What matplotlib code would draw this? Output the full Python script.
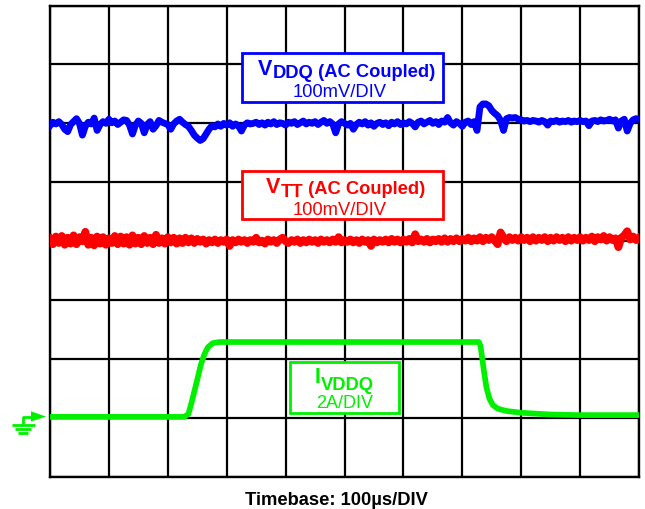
import numpy as np
import matplotlib
matplotlib.use("Agg")
import matplotlib.pyplot as plt
from matplotlib.patches import Rectangle, Polygon

plt.rcParams['font.family'] = ['Liberation Sans', 'DejaVu Sans']

# ---------------- data (grid divisions) ----------------
SAMPLE_STEP = 0.05  # divisions between scope samples

vddq = [
    5.96, 6.02, 5.99, 6.03, 5.98, 5.90, 5.86, 5.98, 6.03, 6.08,
    6.00, 5.80, 5.95, 6.02, 5.99, 6.09, 5.88, 5.98, 6.03, 6.00,
    6.07, 6.01, 6.04, 5.98, 6.02, 6.06, 6.05, 5.97, 5.82, 5.97,
    6.04, 6.00, 5.84, 5.98, 6.03, 5.90, 5.96, 6.05, 6.02, 6.00,
    5.98, 5.90, 5.99, 6.04, 6.07, 6.02, 5.98, 5.95, 5.88, 5.80,
    5.75, 5.71, 5.74, 5.82, 5.90, 5.96, 5.94, 5.99, 5.95, 6.00,
    5.97, 6.01, 5.95, 5.99, 5.96, 5.87, 5.97, 6.01, 5.99, 6.00,
    6.02, 5.98, 6.01, 5.97, 6.02, 5.99, 6.03, 5.98, 6.01, 6.00,
    5.97, 6.02, 6.00, 6.03, 5.98, 6.01, 6.04, 5.99, 6.02, 6.00,
    6.03, 5.98, 6.02, 6.05, 6.00, 6.03, 5.99, 5.84, 5.99, 6.03,
    6.00, 5.97, 6.00, 5.90, 5.98, 6.02, 5.99, 6.03, 5.97, 6.01,
    5.95, 6.00, 6.02, 5.98, 6.01, 5.96, 6.02, 5.99, 6.03, 5.98,
    6.01, 5.99, 6.03, 6.00, 5.94, 6.02, 6.04, 5.99, 6.02, 6.05,
    6.00, 6.03, 5.98, 6.04, 6.02, 6.10, 6.01, 5.97, 6.03, 6.00,
    5.95, 6.02, 6.04, 5.98, 6.03, 5.88, 6.28, 6.33, 6.33, 6.30,
    6.22, 6.17, 6.13, 6.05, 5.88, 6.08, 6.10, 6.09, 6.10, 6.07,
    6.06, 6.04, 6.05, 6.03, 6.05, 6.04, 6.02, 6.05, 6.03, 5.97,
    6.04, 6.03, 6.05, 6.02, 6.04, 6.03, 6.05, 6.02, 6.04, 6.03,
    6.05, 6.03, 6.04, 5.96, 6.04, 6.05, 6.03, 6.06, 6.04, 6.05,
    6.07, 6.04, 6.06, 5.92, 6.04, 6.07, 5.87, 6.00, 6.06, 6.08,
    6.07,
]

vtt = [
    4.04, 3.95, 4.08, 3.97, 4.09, 3.94, 4.06, 3.96, 4.10, 3.95,
    4.07, 4.00, 4.16, 3.94, 4.06, 3.93, 4.08, 3.96, 4.07, 3.94,
    4.05, 3.97, 4.09, 3.95, 4.08, 3.96, 4.07, 3.94, 4.10, 3.96,
    4.06, 3.95, 4.09, 3.97, 4.06, 3.95, 4.11, 3.97, 4.05, 3.96,
    4.07, 3.98, 4.06, 3.96, 4.05, 3.97, 4.06, 3.98, 4.05, 3.97,
    4.04, 3.99, 4.03, 3.96, 4.02, 3.98, 4.03, 3.97, 4.02, 3.99,
    4.03, 3.92, 4.02, 3.98, 4.03, 3.99, 4.02, 3.97, 4.02, 3.99,
    4.06, 3.98, 4.01, 3.96, 4.03, 3.99, 4.02, 3.97, 4.03, 4.06,
    4.00, 3.97, 4.02, 3.99, 4.03, 3.97, 4.02, 3.98, 4.03, 3.99,
    4.02, 3.97, 4.03, 3.99, 4.02, 3.98, 4.03, 3.99, 4.07, 3.98,
    4.02, 3.99, 4.03, 3.98, 4.02, 3.97, 4.03, 3.99, 4.02, 3.92,
    4.03, 3.98, 4.02, 3.99, 4.03, 3.98, 4.04, 3.99, 4.03, 3.98,
    4.03, 3.99, 4.04, 3.98, 4.12, 4.00, 4.03, 3.99, 4.04, 3.98,
    4.03, 4.00, 4.04, 3.99, 4.05, 3.99, 4.04, 4.00, 4.05, 4.00,
    4.04, 4.01, 4.06, 4.00, 4.05, 4.01, 4.07, 4.00, 4.06, 4.02,
    4.07, 4.01, 3.95, 4.15, 4.06, 4.00, 4.07, 4.02, 4.06, 4.01,
    4.07, 4.02, 4.06, 4.00, 4.07, 4.01, 4.06, 4.02, 4.07, 4.00,
    4.06, 4.01, 4.07, 4.02, 4.06, 4.00, 4.07, 4.01, 4.06, 4.02,
    4.07, 4.01, 4.06, 4.02, 4.08, 4.00, 4.07, 4.03, 4.09, 4.01,
    4.07, 4.02, 4.05, 3.90, 4.06, 4.10, 4.17, 4.03, 4.08, 4.02,
    4.06,
]

ivddq_t = [0.00, 2.28, 2.35, 2.40, 2.45, 2.50, 2.56, 2.62, 2.68, 2.76, 2.88,
           7.28, 7.31, 7.34, 7.37, 7.41, 7.46, 7.52, 7.60, 7.75, 8.00, 8.50,
           9.00, 10.00]
ivddq = [1.02, 1.02, 1.07, 1.25, 1.45, 1.65, 1.90, 2.08, 2.20, 2.27, 2.29,
         2.29, 2.22, 2.00, 1.78, 1.52, 1.33, 1.22, 1.16, 1.12, 1.09, 1.06,
         1.05, 1.05]

N_XDIV = 10
N_YDIV = 8

BLUE = '#0000FF'
RED = '#FF0000'
GREEN = '#00F000'

# ---------------- figure ----------------
W, H = 645, 510
fig = plt.figure(figsize=(W / 100, H / 100), dpi=100)
ax = fig.add_axes([50 / W, 32 / H, 589 / W, 471.5 / H])
ax.set_xlim(0, N_XDIV)
ax.set_ylim(0, N_YDIV)
ax.set_xticks(np.arange(N_XDIV + 1))
ax.set_yticks(np.arange(N_YDIV + 1))
ax.tick_params(length=0, labelbottom=False, labelleft=False)
ax.grid(True, color='black', lw=1.6)
for s in ax.spines.values():
    s.set_linewidth(1.7)
    s.set_color('black')

t = np.arange(len(vddq)) * SAMPLE_STEP
ax.plot(t, vddq, color=BLUE, lw=4.9, zorder=4)
ax.plot(np.arange(len(vtt)) * SAMPLE_STEP, vtt, color=RED, lw=5.6, zorder=4)
ax.plot(ivddq_t, ivddq, color=GREEN, lw=4.1, zorder=4, solid_capstyle='butt')

# label boxes (white filled, hide grid)
ax.add_patch(Rectangle((3.26, 6.36), 3.42, 0.83, fc='white', ec=BLUE, lw=2.0, zorder=3))
ax.add_patch(Rectangle((3.26, 4.37), 3.42, 0.83, fc='white', ec=RED, lw=2.0, zorder=3))
ax.add_patch(Rectangle((4.08, 1.09), 1.84, 0.86, fc='white', ec=GREEN, lw=2.0, zorder=3))

# ---------------- overlay in pixel coords ----------------
ov = fig.add_axes([0, 0, 1, 1])
ov.set_xlim(0, W)
ov.set_ylim(H, 0)
ov.axis('off')
ov.patch.set_alpha(0)


def label(x, y, main, sub, rest, color, big=15.5, small=13.2, sub_drop=-2, rest_drop=0):
    t1 = ov.text(x, y, main, color=color, fontsize=big, fontweight='bold',
                 ha='left', va='baseline')
    t2 = ov.annotate(sub, xy=(1, 0), xycoords=t1, xytext=(0, sub_drop),
                     textcoords='offset pixels', color=color, fontsize=small,
                     fontweight='bold', ha='left', va='bottom')
    if rest:
        ov.annotate(rest, xy=(1, 0), xycoords=t2, xytext=(0, rest_drop - sub_drop),
                    textcoords='offset pixels', color=color, fontsize=small,
                    fontweight='bold', ha='left', va='bottom')


label(258, 75, 'V', 'DDQ', ' (AC Coupled)', BLUE, sub_drop=-1.5, rest_drop=-1)
ov.text(340, 96.7, '100mV/DIV', color=BLUE, fontsize=13.2, ha='center', va='baseline')

label(266, 193, 'V', 'TT', ' (AC Coupled)', RED, sub_drop=-3.5, rest_drop=-0.5)
ov.text(340, 215, '100mV/DIV', color=RED, fontsize=13.2, ha='center', va='baseline')

label(315, 383, 'I', 'VDDQ', '', GREEN, sub_drop=-6)
ov.text(344.5, 408.3, '2A/DIV', color=GREEN, fontsize=13, ha='center', va='baseline')

ov.text(336, 504.7, 'Timebase: 100\u00b5s/DIV', color='black', fontsize=13.2,
        fontweight='bold', ha='center', va='baseline')

# ground reference marker
glw = 2.0
ov.plot([23, 23, 32], [425, 417.5, 417.5], color=GREEN, lw=glw, solid_capstyle='butt')
ov.add_patch(Polygon([[31, 412.3], [46, 417.6], [31, 422.5]], closed=True,
                     fc=GREEN, ec='none'))
for yy, x0, x1 in [(425.5, 12, 35), (429.5, 15, 31), (433.5, 18, 28)]:
    ov.plot([x0, x1], [yy, yy], color=GREEN, lw=glw, solid_capstyle='butt')

fig.savefig('out.png', dpi=100)
